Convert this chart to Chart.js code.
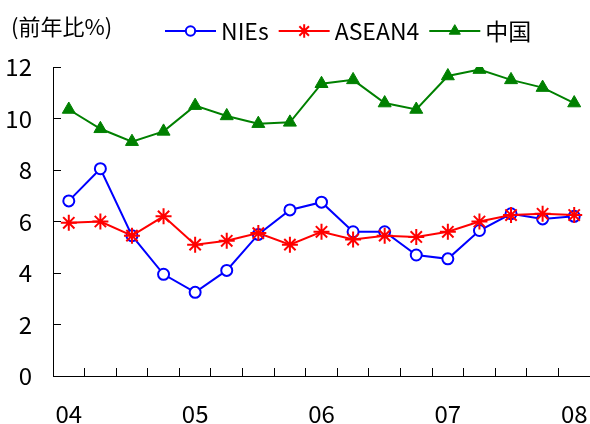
<!DOCTYPE html>
<html>
<head>
<meta charset="utf-8">
<script src="https://cdn.jsdelivr.net/npm/chart.js@4.4.0/dist/chart.umd.min.js"></script>
<style>
  html, body { margin: 0; padding: 0; background: #fff; }
  #wrap { position: relative; width: 590px; height: 424px; }
  #unit {
    position: absolute; left: 11px; top: 13px;
    font: 22px "Noto Sans CJK JP"; line-height: 24px; color: #000; white-space: nowrap;
  }
</style>
</head>
<body>
<div id="wrap">
  <canvas id="chart" width="590" height="424"></canvas>
  <div id="unit">(前年比%)</div>
</div>
<script>
// quarterly, 2004Q1 .. 2008Q1 (year label on each Q1)
const quarters = ['04', '', '', '', '05', '', '', '', '06', '', '', '', '07', '', '', '', '08'];
const nies   = [6.8, 8.05, 5.45, 3.95, 3.25, 4.1, 5.5, 6.45, 6.75, 5.6, 5.6, 4.7, 4.55, 5.65, 6.3, 6.1, 6.2];
const asean4 = [5.95, 6.0, 5.45, 6.2, 5.1, 5.25, 5.55, 5.1, 5.6, 5.3, 5.45, 5.4, 5.6, 6.0, 6.25, 6.3, 6.25];
const china  = [10.35, 9.6, 9.1, 9.5, 10.5, 10.1, 9.8, 9.85, 11.35, 11.5, 10.6, 10.35, 11.65, 11.9, 11.5, 11.2, 10.6];
const yTicks = [0, 2, 4, 6, 8, 10, 12];

const FONT = '"Noto Sans CJK JP", "Noto Sans", sans-serif';

// legend row drawn above the plot: line + marker + label
const topLegend = {
  id: 'topLegend',
  afterDraw(chart) {
    const ctx = chart.ctx;
    let x = 165;
    const y = 31;
    ctx.save();
    ctx.font = '23px ' + FONT;
    ctx.textBaseline = 'middle';
    ctx.textAlign = 'left';
    chart.data.datasets.forEach(ds => {
      ctx.strokeStyle = ds.borderColor;
      ctx.lineWidth = 2;
      ctx.beginPath();
      ctx.moveTo(x, y);
      ctx.lineTo(x + 51, y);
      ctx.stroke();
      ctx.fillStyle = ds.pointBackgroundColor;
      ctx.strokeStyle = ds.pointBorderColor;
      ctx.lineWidth = ds.pointBorderWidth;
      Chart.helpers.drawPoint(ctx, {
        pointStyle: ds.pointStyle, rotation: 0,
        radius: ds.pointRadius * 0.85, borderWidth: ds.pointBorderWidth
      }, x + 25.5, y);
      ctx.fillStyle = '#000';
      ctx.fillText(ds.label, x + 56, y);
      x += 56 + ctx.measureText(ds.label).width + 10;
    });
    ctx.restore();
  }
};

new Chart(document.getElementById('chart'), {
  type: 'line',
  data: {
    labels: quarters,
    datasets: [
      {
        label: 'NIEs', data: nies, order: 1,
        borderColor: '#0000ff', borderWidth: 2,
        pointStyle: 'circle', pointRadius: 5.5, pointBorderWidth: 2,
        pointBackgroundColor: '#ffffff', pointBorderColor: '#0000ff'
      },
      {
        label: 'ASEAN4', data: asean4, order: 0,
        borderColor: '#ff0000', borderWidth: 2,
        pointStyle: 'star', pointRadius: 8, pointBorderWidth: 2,
        pointBackgroundColor: '#ff0000', pointBorderColor: '#ff0000'
      },
      {
        label: '中国', data: china, order: 2,
        borderColor: '#008000', borderWidth: 2,
        pointStyle: 'triangle', pointRadius: 7.5, pointBorderWidth: 1,
        pointBackgroundColor: '#008000', pointBorderColor: '#008000'
      }
    ]
  },
  options: {
    responsive: false,
    animation: false,
    layout: { autoPadding: false, padding: { top: 67, left: 0, right: 0, bottom: 0 } },
    elements: { line: { tension: 0 } },
    plugins: {
      legend: { display: false },
      tooltip: { enabled: false }
    },
    scales: {
      x: {
        type: 'category',
        offset: true,
        grid: { offset: true, drawOnChartArea: false, tickLength: -8, color: '#000', lineWidth: 1 },
        border: { color: '#000', width: 1 },
        ticks: {
          autoSkip: false, maxRotation: 0, padding: 31,
          color: '#000', font: { family: FONT, size: 24 }
        },
        afterFit(scale) {
          scale.height = 48;
          scale.paddingLeft = 0;
          scale.paddingRight = 0;
        }
      },
      y: {
        min: 0, max: 12,
        afterBuildTicks(scale) { scale.ticks = yTicks.map(v => ({ value: v })); },
        grid: { drawOnChartArea: false, tickLength: -8, color: '#000', lineWidth: 1 },
        border: { color: '#000', width: 1 },
        ticks: { padding: 29, color: '#000', font: { family: FONT, size: 24 } },
        afterFit(scale) { scale.width = 53; }
      }
    }
  },
  plugins: [topLegend]
});
</script>
</body>
</html>
